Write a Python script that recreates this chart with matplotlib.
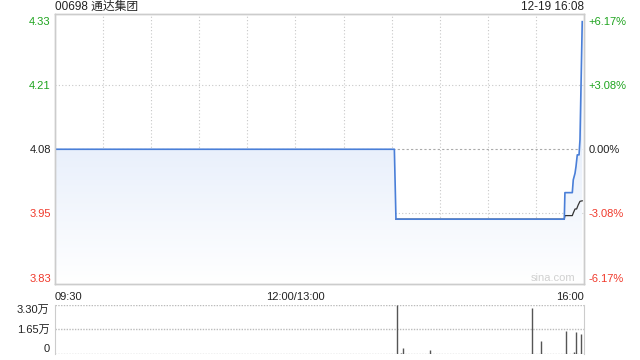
import numpy as np
import matplotlib
matplotlib.use("Agg")
import matplotlib.pyplot as plt
from matplotlib.colors import LinearSegmentedColormap

plt.rcParams['font.family'] = ['Liberation Sans', 'Noto Sans CJK SC', 'DejaVu Sans']

# trading minutes counted from 09:30 (lunch removed), 330 = 16:00
prev_close = 4.08
price_t = [0, 211.7, 212.7, 317.7, 318.1, 322.7, 323.3, 324.4, 325.0, 325.8, 326.9, 327.5, 328.9]
price_v = [4.08, 4.08, 3.943, 3.943, 3.995, 3.995, 4.02, 4.033, 4.046, 4.069, 4.069, 4.099, 4.33]
avg_t = [212.7, 317.7, 318.1, 322.7, 323.3, 324.4, 325.4, 326.4, 327.5, 328.9]
avg_v = [3.943, 3.943, 3.950, 3.950, 3.955, 3.963, 3.963, 3.971, 3.978, 3.979]
vol_t = [213.1, 215.9, 217.3, 233.9, 297.4, 303.4, 318.8, 324.0, 325.2, 328.3]
vol_v = [33000, 500, 3500, 2200, 31000, 8700, 15500, 1200, 14800, 13400]

pct_ticks = [0.0617, 0.0308, 0.0, -0.0308, -0.0617]
pct_labels = ['+6.17%', '+3.08%', '0.00%', '-3.08%', '-6.17%']
price_labels = ['4.33', '4.21', '4.08', '3.95', '3.83']
x_labels = ['09:30', '12:00/13:00', '16:00']
vol_ticks = [33000, 16500, 0]
vol_labels = ['3.30万', '1.65万', '0']

green = '#1ea41e'
red = '#f0392b'
dark = '#222222'
border = '#cccccc'
tick_colors = [green, green, dark, red, red]

fig = plt.figure(figsize=(6.4, 3.6), dpi=100)
ax = fig.add_axes([55/640, 1-284/360, 529/640, 270/360])
vx = fig.add_axes([55/640, 1-353.5/360, 529/640, 48.5/360])

ylo, yhi = 3.816, 4.345
ax.set_xlim(0, 330)
ax.set_ylim(ylo, yhi)

# gradient fill under the price line
poly = ax.fill_between(price_t, price_v, ylo, color='none', lw=0)
cmap = LinearSegmentedColormap.from_list('g', ['#d3e1f8', '#ffffff'])
grad = np.linspace(0, 1, 256).reshape(-1, 1)
im = ax.imshow(grad, cmap=cmap, aspect='auto', extent=[0, 330, ylo, yhi], origin='upper', zorder=1)
im.set_clip_path(poly.get_paths()[0], transform=ax.transData)

# grid
for m in range(30, 330, 30):
    ax.axvline(m, color='#c8c8c8', lw=0.8, ls=(0, (1, 2)), zorder=0.5)
for p in pct_ticks[1:-1]:
    if p == 0:
        ax.axhline(prev_close, color='#aaaaaa', lw=0.8, ls=(0, (2, 2)), zorder=0.5)
    else:
        ax.axhline(prev_close*(1+p), color='#c8c8c8', lw=0.8, ls=(0, (1, 2)), zorder=0.5)

ax.plot(avg_t, avg_v, color='#333333', lw=0.9, zorder=3)
ax.plot(price_t, price_v, color='#4a7fd8', lw=1.2, zorder=4)

tick_pos = [prev_close*(1+p) for p in pct_ticks]
ax.set_yticks(tick_pos, price_labels)
for lab, c in zip(ax.get_yticklabels(), tick_colors):
    lab.set_color(c)
ax.tick_params(axis='y', length=0, pad=3, labelsize=8)

ax2 = ax.twinx()
ax2.set_ylim(ylo, yhi)
ax2.set_yticks(tick_pos, pct_labels)
for lab, c in zip(ax2.get_yticklabels(), tick_colors):
    lab.set_color(c)
ax2.tick_params(axis='y', length=0, pad=3, labelsize=8)

ax.set_xticks([0, 150, 330], x_labels)
xl = ax.get_xticklabels()
xl[0].set_ha('left')
xl[2].set_ha('right')
ax.tick_params(axis='x', length=0, pad=6, labelsize=8, labelcolor=dark)

for a in (ax, ax2):
    for s in a.spines.values():
        s.set_color(border)
        s.set_linewidth(1)

ax.text((575-55)/529, 0.005, 'sina.com', transform=ax.transAxes, ha='right', va='bottom',
        fontsize=8, color='#d0d0d0')

# volume panel
vx.set_xlim(0, 330)
vx.set_ylim(0, 33000)
vx.vlines(vol_t, 0, vol_v, color='#555555', lw=1)
for v in vol_ticks:
    vx.axhline(v, color='#bbbbbb', lw=1, ls=(0, (1, 1)), zorder=0.5)
vx.set_xticks([])
vx.set_yticks(vol_ticks, vol_labels)
vl = vx.get_yticklabels()
vl[0].set_va('top')
vl[2].set_va('bottom')
vx.tick_params(axis='y', length=0, pad=4, labelsize=8, labelcolor=dark)
vx.spines['top'].set_visible(False)
vx.spines['bottom'].set_visible(False)
vx.spines['left'].set_color(border)
vx.spines['right'].set_color(border)

fig.text(55/640, 1-7/360, '00698 通达集团', ha='left', va='center', fontsize=8.5, color=dark)
fig.text(584/640, 1-7/360, '12-19 16:08', ha='right', va='center', fontsize=8.5, color=dark)

fig.savefig('out.png', dpi=100)
